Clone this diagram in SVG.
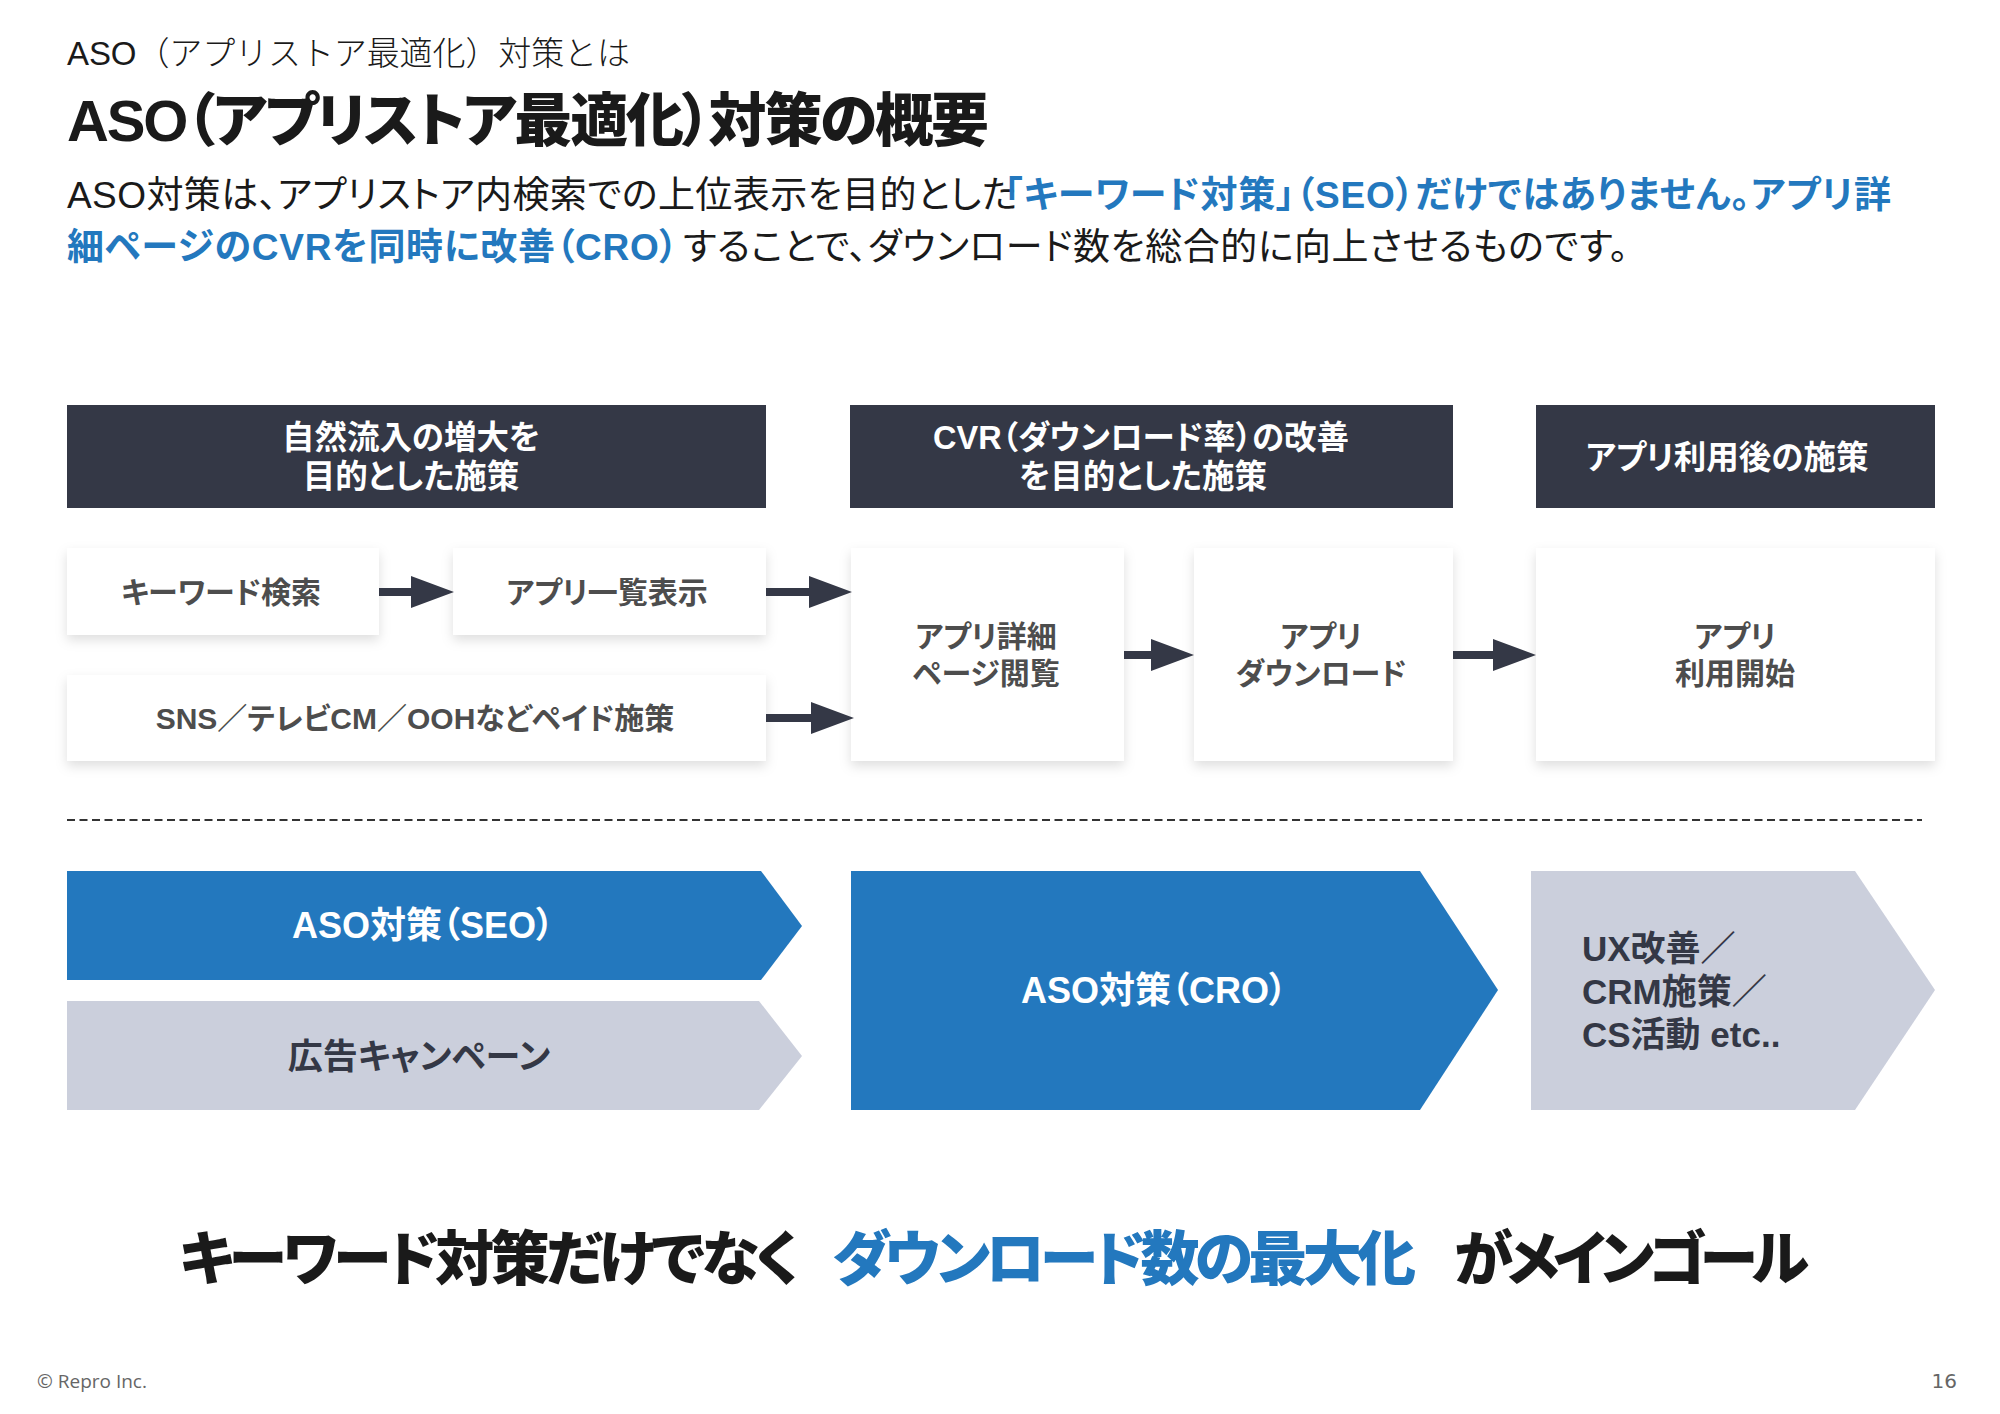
<svg xmlns="http://www.w3.org/2000/svg" width="2000" height="1414" viewBox="0 0 2000 1414">
<style>
text{font-family:"Liberation Sans","Noto Sans CJK JP",sans-serif;font-feature-settings:"palt"}
.sub{font-size:33px;font-weight:300;fill:#1a1a1a;font-feature-settings:"kern" 0}
.title{font-size:58px;font-weight:900;fill:#1a1a1a}
.p{font-size:37px;font-weight:400;fill:#1a1a1a}
.pb{font-size:37px;font-weight:700;fill:#2378be}
.hd{font-size:32.5px;font-weight:700;fill:#fff;text-anchor:middle}
.bx{font-size:30px;font-weight:700;fill:#4d4d4d;text-anchor:middle}
.cw{font-size:36px;font-weight:700;fill:#fff;text-anchor:middle}
.cd{font-size:35px;font-weight:700;fill:#343846}
.goal{font-size:59px;font-weight:900;fill:#1a1a1a}
.ft{font-family:"Open Sans",sans-serif;font-size:19px;fill:#666}
.hdr{fill:#343846}.box{fill:#fff;filter:url(#sh)}
.blue{fill:#2378be}.gray{fill:#cbcfdc}
.ar{stroke:#343846;stroke-width:8;fill:none;marker-end:url(#ah)}
</style>
<defs>
<filter id="sh" x="-10%" y="-20%" width="120%" height="150%"><feDropShadow dx="0" dy="5" stdDeviation="6" flood-color="#000" flood-opacity=".13"/></filter>
<marker id="ah" markerUnits="userSpaceOnUse" markerWidth="44" markerHeight="32" refX="0" refY="16" orient="auto"><path d="M0 0L43 16L0 32z" fill="#343846"/></marker>
</defs>
<rect width="2000" height="1414" fill="#fff"/>
<g id="heading">
<text class="sub" x="67" y="65" textLength="563">ASO（アプリストア最適化）対策とは</text>
<text class="title" x="67" y="141" textLength="922">ASO（アプリストア最適化）対策の概要</text>
<text class="p" x="67" y="208"><tspan textLength="950">ASO対策は、アプリストア内検索での上位表示を目的とした</tspan><tspan class="pb" x="1004" textLength="887">「キーワード対策」（SEO）だけではありません。アプリ詳</tspan></text>
<text class="p" x="67" y="260"><tspan class="pb" textLength="611">細ページのCVRを同時に改善（CRO）</tspan><tspan x="683" textLength="945">することで、ダウンロード数を総合的に向上させるものです。</tspan></text>
</g>
<g id="hdr1"><rect class="hdr" x="67" y="405" width="699" height="103"/><text class="hd"><tspan x="411" y="449">自然流入の増大を</tspan><tspan x="411" y="488">目的とした施策</tspan></text></g>
<g id="hdr2"><rect class="hdr" x="850" y="405" width="603" height="103"/><text class="hd"><tspan x="1141" y="449">CVR（ダウンロード率）の改善</tspan><tspan x="1143" y="488">を目的とした施策</tspan></text></g>
<g id="hdr3"><rect class="hdr" x="1536" y="405" width="399" height="103"/><text class="hd" x="1727" y="469">アプリ利用後の施策</text></g>
<g id="n-keyword"><rect class="box" x="67" y="548" width="312" height="87"/><text class="bx" x="221" y="603">キーワード検索</text></g>
<g id="n-list"><rect class="box" x="453" y="548" width="313" height="87"/><text class="bx" x="607" y="603">アプリ一覧表示</text></g>
<g id="n-paid"><rect class="box" x="67" y="675" width="699" height="86"/><text class="bx" x="415" y="729">SNS／テレビCM／OOHなどペイド施策</text></g>
<g id="n-detail"><rect class="box" x="851" y="548" width="273" height="213"/><text class="bx"><tspan x="986" y="647">アプリ詳細</tspan><tspan x="986" y="684">ページ閲覧</tspan></text></g>
<g id="n-dl"><rect class="box" x="1194" y="548" width="259" height="213"/><text class="bx"><tspan x="1321" y="647">アプリ</tspan><tspan x="1321" y="684">ダウンロード</tspan></text></g>
<g id="n-start"><rect class="box" x="1536" y="548" width="399" height="213"/><text class="bx"><tspan x="1735" y="647">アプリ</tspan><tspan x="1735" y="684">利用開始</tspan></text></g>
<g id="connectors">
<line class="ar" x1="379" y1="592" x2="411" y2="592"/>
<line class="ar" x1="766" y1="592" x2="809" y2="592"/>
<line class="ar" x1="766" y1="718" x2="811" y2="718"/>
<line class="ar" x1="1124" y1="655" x2="1151" y2="655"/>
<line class="ar" x1="1453" y1="655" x2="1493" y2="655"/>
</g>
<line id="divider" x1="67" y1="820" x2="1922" y2="820" stroke="#333" stroke-width="2.2" stroke-dasharray="8 4.5"/>
<g id="c-seo"><polygon class="blue" points="67,871 761,871 802,926 761,980 67,980"/><text class="cw" x="423" y="938">ASO対策（SEO）</text></g>
<g id="c-ad"><polygon class="gray" points="67,1001 759,1001 802,1056 759,1110 67,1110"/><text class="cw" style="fill:#343846;font-size:35px" x="419" y="1069">広告キャンペーン</text></g>
<g id="c-cro"><polygon class="blue" points="851,871 1420,871 1498,990 1420,1110 851,1110"/><text class="cw" x="1154" y="1003">ASO対策（CRO）</text></g>
<g id="c-ux"><polygon class="gray" points="1531,871 1855,871 1935,990 1855,1110 1531,1110"/><text class="cd"><tspan x="1582" y="961">UX改善／</tspan><tspan x="1582" y="1004">CRM施策／</tspan><tspan x="1582" y="1047">CS活動 etc..</tspan></text></g>
<g id="goal">
<text class="goal" x="179" y="1280" textLength="620">キーワード対策だけでなく</text>
<text class="goal" x="832" y="1280" textLength="584" style="fill:#2378be">ダウンロード数の最大化</text>
<text class="goal" x="1454" y="1280" textLength="355">がメインゴール</text>
</g>
<g id="footer">
<text class="ft" x="37" y="1388">© Repro Inc.</text>
<text class="ft" x="1957" y="1388" text-anchor="end" style="font-family:'DejaVu Sans',sans-serif;font-size:20px">16</text>
</g>
</svg>
